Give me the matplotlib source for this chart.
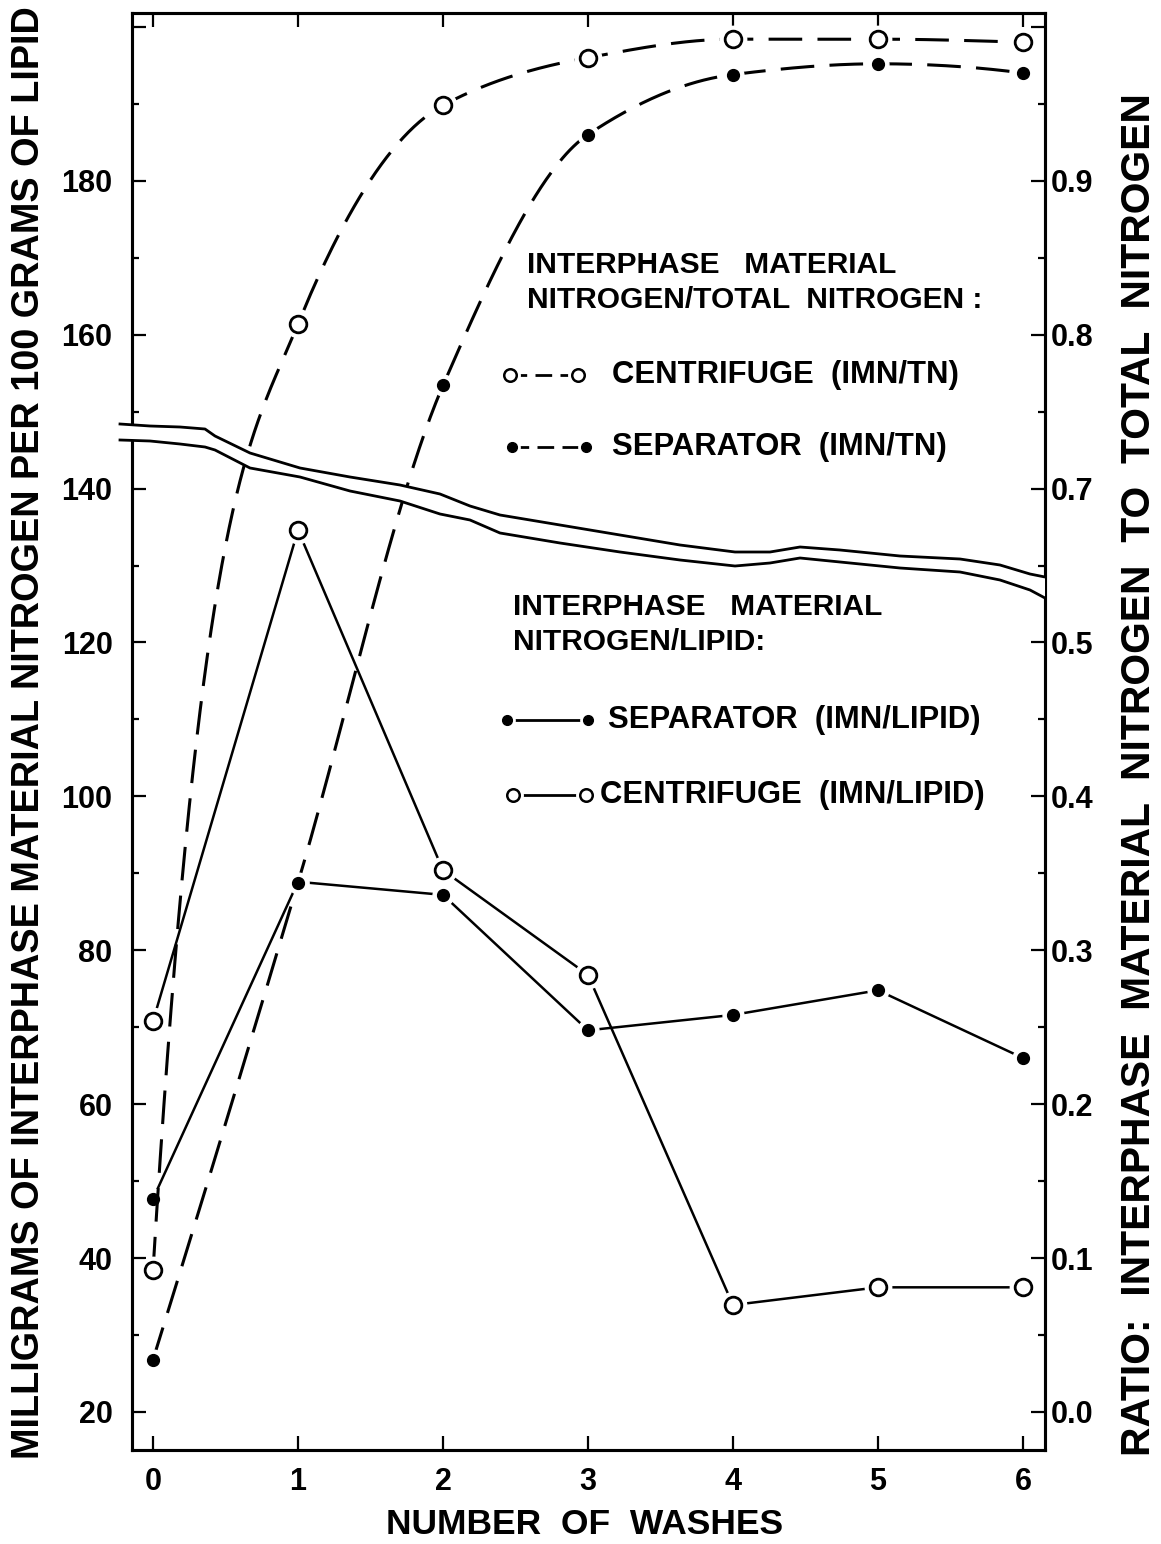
import numpy as np
import matplotlib
matplotlib.use("Agg")
import matplotlib.pyplot as plt
from matplotlib.lines import Line2D
from matplotlib.ticker import FixedLocator, FixedFormatter, NullFormatter

plt.rcParams["font.family"] = ["Liberation Sans", "DejaVu Sans"]
plt.rcParams["font.weight"] = "bold"

# ---------------- data ----------------
washes = [0, 1, 2, 3, 4, 5, 6]
# mg interphase material nitrogen per 100 g lipid (left axis)
centrifuge_lipid = [70.8, 134.6, 90.4, 76.8, 33.9, 36.2, 36.2]
separator_lipid = [47.7, 88.9, 87.2, 69.6, 71.6, 74.8, 66.0]
# ratio IMN / total nitrogen (right axis)
centrifuge_ratio = [0.092, 0.807, 0.949, 0.980, 0.992, 0.992, 0.990]
separator_ratio = [0.034, 0.344, 0.767, 0.930, 0.969, 0.976, 0.970]

x_ticks = [0, 1, 2, 3, 4, 5, 6]
left_major = [20, 40, 60, 80, 100, 120, 140, 160, 180, 200]
left_labels = ["20", "40", "60", "80", "100", "120", "140", "160", "180", ""]
right_major = [0.0, 0.1, 0.2, 0.3, 0.4, 0.5, 0.7, 0.8, 0.9, 1.0]
right_labels = ["0.0", "0.1", "0.2", "0.3", "0.4", "0.5", "0.7", "0.8", "0.9", ""]
right_minor = [0.05, 0.15, 0.25, 0.35, 0.45, 0.6, 0.75, 0.85, 0.95]

# paper crease / paste-up edge visible across the scanned original (pixel coords)
crease_x = [120, 150, 180, 205, 215, 250, 300, 350, 400, 440, 470, 500, 560,
            620, 680, 735, 770, 800, 840, 900, 960, 1000, 1030, 1045]
crease_upper = [424, 426, 427, 429, 436, 453, 468, 477, 485, 494, 506, 515, 525,
                535, 545, 552, 552, 547, 550, 556, 559, 565, 574, 577]
crease_lower = [440, 441, 444, 447, 450, 468, 477, 491, 501, 514, 520, 533, 543,
                552, 560, 566, 563, 558, 562, 568, 572, 580, 590, 598]

W, H = 1161, 1544


# right axis as printed: 0.0-0.5 and 0.7-0.9 share the left axis spacing
def fwd(r):
    r = np.asarray(r, float)
    return np.where(r <= 0.5, 20 + 200 * r,
                    np.where(r < 0.7, 120 + 100 * (r - 0.5), 140 + 200 * (r - 0.7)))


def inv(v):
    v = np.asarray(v, float)
    return np.where(v <= 120, (v - 20) / 200,
                    np.where(v < 140, 0.5 + (v - 120) / 100, 0.7 + (v - 140) / 200))


def smooth(x, y, n=80, start_factor=None):
    """monotone cubic Hermite curve through the points"""
    x = np.asarray(x, float)
    y = np.asarray(y, float)
    h = np.diff(x)
    d = np.diff(y) / h
    m = np.zeros_like(y)
    for k in range(1, len(x) - 1):
        if d[k - 1] * d[k] <= 0:
            m[k] = 0
        else:
            w1 = 2 * h[k] + h[k - 1]
            w2 = h[k] + 2 * h[k - 1]
            m[k] = (w1 + w2) / (w1 / d[k - 1] + w2 / d[k])

    def endslope(h0, h1, d0, d1):
        s = ((2 * h0 + h1) * d0 - h0 * d1) / (h0 + h1)
        if np.sign(s) != np.sign(d0):
            s = 0
        elif np.sign(d0) != np.sign(d1) and abs(s) > 3 * abs(d0):
            s = 3 * d0
        return s

    m[0] = endslope(h[0], h[1], d[0], d[1])
    m[-1] = endslope(h[-1], h[-2], d[-1], d[-2])
    if start_factor is not None:
        m[0] = start_factor * d[0]
    xs, ys = [], []
    for k in range(len(x) - 1):
        t = np.linspace(0, 1, n, endpoint=(k == len(x) - 2))
        h00 = 2 * t**3 - 3 * t**2 + 1
        h10 = t**3 - 2 * t**2 + t
        h01 = -2 * t**3 + 3 * t**2
        h11 = t**3 - t**2
        xs.append(x[k] + t * h[k])
        ys.append(h00 * y[k] + h10 * h[k] * m[k] + h01 * y[k + 1] + h11 * h[k] * m[k + 1])
    return np.concatenate(xs), np.concatenate(ys)


fig = plt.figure(figsize=(W / 100, H / 100), dpi=100)
ax = fig.add_axes([132 / W, 1 - 1450 / H, 913 / W, 1437 / H])
ax2 = ax.twinx()

LW_SPINE = 2.2
for a in (ax, ax2):
    for s in a.spines.values():
        s.set_linewidth(LW_SPINE)

ax.set_xlim(-0.145, 6.152)
ax.set_ylim(15.06, 201.8)
ax2.set_yscale("function", functions=(fwd, inv))
ax2.set_ylim(float(inv(15.06)), float(inv(201.8)))

TICK = 22
# ticks
ax.set_xticks(x_ticks)
ax.set_xticklabels([str(v) for v in x_ticks])
ax.yaxis.set_major_locator(FixedLocator(left_major))
ax.yaxis.set_major_formatter(FixedFormatter(left_labels))
ax.yaxis.set_minor_locator(FixedLocator([v + 10 for v in left_major[:-1]]))
ax.tick_params(axis="x", which="major", direction="in", top=True, bottom=True,
               length=10, width=1.6, pad=12, labelsize=TICK)
ax.tick_params(axis="y", which="major", direction="in", left=True, right=False,
               length=10, width=1.6, pad=14, labelsize=TICK)
ax.tick_params(axis="y", which="minor", direction="in", left=True, right=False,
               length=5, width=1.6)

ax2.yaxis.set_major_locator(FixedLocator(right_major))
ax2.yaxis.set_major_formatter(FixedFormatter(right_labels))
ax2.yaxis.set_minor_locator(FixedLocator(right_minor))
ax2.yaxis.set_minor_formatter(NullFormatter())
ax2.tick_params(axis="y", which="major", direction="in", length=10, width=1.6,
                pad=4, labelsize=TICK)
ax2.tick_params(axis="y", which="minor", direction="in", length=5, width=1.6)

OPEN_MS, FILL_MS = 12, 8.5
HALO_OPEN, HALO_FILL = 19, 15
LW = 1.8
DASH = (0, (11, 5))

# ---- lipid series (solid) on left axis ----
ax.plot(washes, centrifuge_lipid, color="black", lw=LW, zorder=2)
ax.plot(washes, separator_lipid, color="black", lw=LW, zorder=2)
ax.plot(washes, centrifuge_lipid, "o", ms=HALO_OPEN, mfc="white", mec="white", zorder=3)
ax.plot(washes, separator_lipid, "o", ms=HALO_FILL, mfc="white", mec="white", zorder=3)
ax.plot(washes, centrifuge_lipid, "o", ms=OPEN_MS, mfc="white", mec="black", mew=2.0, zorder=4)
ax.plot(washes, separator_lipid, "o", ms=FILL_MS, mfc="black", mec="black", zorder=4)

# ---- ratio series (dashed, smooth) on right axis ----
cx, cL = smooth(washes, fwd(centrifuge_ratio), start_factor=2.5)
sx, sL = smooth(washes, fwd(separator_ratio))
ax2.plot(cx, inv(cL), color="black", lw=2.2, ls=DASH, zorder=2)
ax2.plot(sx, inv(sL), color="black", lw=2.2, ls=DASH, zorder=2)
ax2.plot(washes, centrifuge_ratio, "o", ms=HALO_OPEN, mfc="white", mec="white", zorder=3)
ax2.plot(washes, separator_ratio, "o", ms=HALO_FILL, mfc="white", mec="white", zorder=3)
ax2.plot(washes, centrifuge_ratio, "o", ms=OPEN_MS, mfc="white", mec="black", mew=2.0, zorder=4)
ax2.plot(washes, separator_ratio, "o", ms=FILL_MS, mfc="black", mec="black", zorder=4)


# ---- in-plot key ----
def fx(px):
    return (px - 132) / 913


def fy(py):
    return (1450 - py) / 1437


TXT = 21.5
ax2.text(fx(527), fy(265), "INTERPHASE   MATERIAL", transform=ax2.transAxes,
         fontsize=TXT, va="center", ha="left")
ax2.text(fx(527), fy(300), "NITROGEN/TOTAL  NITROGEN :", transform=ax2.transAxes,
         fontsize=TXT, va="center", ha="left")
ax2.text(fx(513), fy(607), "INTERPHASE   MATERIAL", transform=ax2.transAxes,
         fontsize=TXT, va="center", ha="left")
ax2.text(fx(513), fy(642), "NITROGEN/LIPID:", transform=ax2.transAxes,
         fontsize=TXT, va="center", ha="left")

key_rows = [
    (510, 578, 375, "dash", "open", 612, "CENTRIFUGE  (IMN/TN)"),
    (512, 586, 447, "dash", "fill", 612, "SEPARATOR  (IMN/TN)"),
    (507, 588, 720, "solid", "fill", 608, "SEPARATOR  (IMN/LIPID)"),
    (513, 586, 795, "solid", "open", 600, "CENTRIFUGE  (IMN/LIPID)"),
]
for x1, x2, yy, ls, mk, tx, label in key_rows:
    style = (0, (6, 3)) if ls == "dash" else "-"
    ax2.plot([fx(x1), fx(x2)], [fy(yy), fy(yy)], transform=ax2.transAxes,
             color="black", lw=2.0, ls=style, zorder=5, clip_on=False)
    if mk == "open":
        ax2.plot([fx(x1), fx(x2)], [fy(yy), fy(yy)], "o", transform=ax2.transAxes,
                 ms=14, mfc="white", mec="white", zorder=6)
        ax2.plot([fx(x1), fx(x2)], [fy(yy), fy(yy)], "o", transform=ax2.transAxes,
                 ms=9, mfc="white", mec="black", mew=1.8, zorder=7)
    else:
        ax2.plot([fx(x1), fx(x2)], [fy(yy), fy(yy)], "o", transform=ax2.transAxes,
                 ms=11, mfc="white", mec="white", zorder=6)
        ax2.plot([fx(x1), fx(x2)], [fy(yy), fy(yy)], "o", transform=ax2.transAxes,
                 ms=7, mfc="black", mec="black", zorder=7)
    ax2.text(fx(tx), fy(yy), label, transform=ax2.transAxes, fontsize=22.3,
             va="center", ha="left")

# ---- axis titles ----
fig.text(585 / W, 1 - 1525 / H, "NUMBER  OF  WASHES", fontsize=25.5,
         ha="center", va="center")
fig.text(29 / W, 1 - 733 / H,
         "MILLIGRAMS OF INTERPHASE MATERIAL NITROGEN PER 100 GRAMS OF LIPID",
         fontsize=27.3, rotation=90, ha="center", va="center")
fig.text(1139 / W, 1 - 775 / H,
         "RATIO:  INTERPHASE  MATERIAL  NITROGEN  TO  TOTAL  NITROGEN",
         fontsize=29.3, rotation=90, ha="center", va="center")

# ---- paper crease of the scanned original ----
cxf = np.array(crease_x) / W
cu = 1 - np.array(crease_upper) / H
cl = 1 - np.array(crease_lower) / H
band = plt.Polygon(np.column_stack([np.r_[cxf, cxf[::-1]], np.r_[cu, cl[::-1]]]),
                   closed=True, facecolor="white", edgecolor="none",
                   transform=fig.transFigure, zorder=20)
fig.add_artist(band)
fig.add_artist(Line2D(cxf, cu, color="black", lw=2.0, transform=fig.transFigure, zorder=21))
fig.add_artist(Line2D(cxf, cl, color="black", lw=2.0, transform=fig.transFigure, zorder=21))

fig.savefig("out.png", dpi=100, facecolor="white")
